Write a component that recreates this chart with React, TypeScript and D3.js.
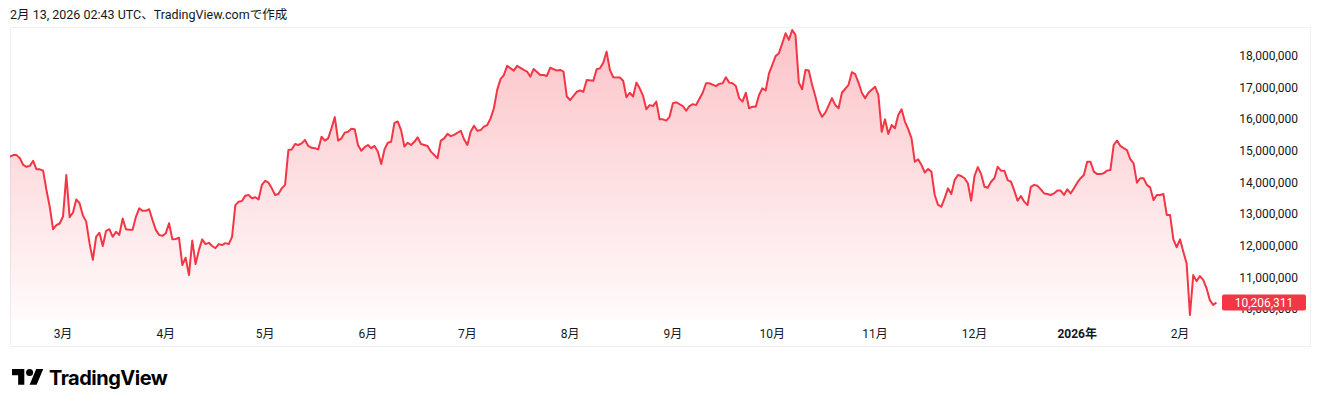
import React from "react";
import * as d3 from "d3";

// ---- data (BTC/JPY daily close) ----
const febMar2025: [string, number][] = [
  ["2025-02-13", 14810000], ["2025-02-14", 14860000], ["2025-02-15", 14860000], ["2025-02-16", 14760000],
  ["2025-02-17", 14550000], ["2025-02-18", 14490000], ["2025-02-19", 14520000], ["2025-02-20", 14680000],
  ["2025-02-21", 14410000], ["2025-02-22", 14410000], ["2025-02-23", 14370000], ["2025-02-24", 13760000],
  ["2025-02-25", 13230000], ["2025-02-26", 12520000], ["2025-02-27", 12650000], ["2025-02-28", 12700000],
  ["2025-03-01", 12920000], ["2025-03-02", 14230000], ["2025-03-03", 12900000], ["2025-03-04", 13040000],
  ["2025-03-05", 13460000], ["2025-03-06", 13340000], ["2025-03-07", 12950000], ["2025-03-08", 12760000],
  ["2025-03-09", 12080000], ["2025-03-10", 11550000], ["2025-03-11", 12280000], ["2025-03-12", 12410000],
  ["2025-03-13", 11990000], ["2025-03-14", 12470000], ["2025-03-15", 12520000], ["2025-03-16", 12280000],
  ["2025-03-17", 12440000], ["2025-03-18", 12340000], ["2025-03-19", 12860000], ["2025-03-20", 12520000],
  ["2025-03-21", 12500000], ["2025-03-22", 12500000], ["2025-03-23", 12910000], ["2025-03-24", 13180000],
  ["2025-03-25", 13100000], ["2025-03-26", 13100000], ["2025-03-27", 13150000], ["2025-03-28", 12810000],
  ["2025-03-29", 12500000], ["2025-03-30", 12340000], ["2025-03-31", 12310000],
];

const aprMay2025: [string, number][] = [
  ["2025-04-01", 12390000], ["2025-04-02", 12710000], ["2025-04-03", 12200000], ["2025-04-04", 12210000],
  ["2025-04-05", 12250000], ["2025-04-06", 11390000], ["2025-04-07", 11620000], ["2025-04-08", 11070000],
  ["2025-04-09", 12160000], ["2025-04-10", 11420000], ["2025-04-11", 11860000], ["2025-04-12", 12200000],
  ["2025-04-13", 12050000], ["2025-04-14", 12090000], ["2025-04-15", 11990000], ["2025-04-16", 11920000],
  ["2025-04-17", 12050000], ["2025-04-18", 12020000], ["2025-04-19", 12080000], ["2025-04-20", 12050000],
  ["2025-04-21", 12280000], ["2025-04-22", 13280000], ["2025-04-23", 13390000], ["2025-04-24", 13410000],
  ["2025-04-25", 13580000], ["2025-04-26", 13600000], ["2025-04-27", 13500000], ["2025-04-28", 13530000],
  ["2025-04-29", 13460000], ["2025-04-30", 13920000],
  ["2025-05-01", 14050000], ["2025-05-02", 13990000], ["2025-05-03", 13810000], ["2025-05-04", 13600000],
  ["2025-05-05", 13630000], ["2025-05-06", 13810000], ["2025-05-07", 13920000], ["2025-05-08", 15020000],
  ["2025-05-09", 15040000], ["2025-05-10", 15210000], ["2025-05-11", 15180000], ["2025-05-12", 15230000],
  ["2025-05-13", 15340000], ["2025-05-14", 15150000], ["2025-05-15", 15090000], ["2025-05-16", 15080000],
  ["2025-05-17", 15040000], ["2025-05-18", 15440000], ["2025-05-19", 15320000], ["2025-05-20", 15390000],
  ["2025-05-21", 15710000], ["2025-05-22", 16060000], ["2025-05-23", 15320000], ["2025-05-24", 15390000],
  ["2025-05-25", 15570000], ["2025-05-26", 15600000], ["2025-05-27", 15690000], ["2025-05-28", 15680000],
  ["2025-05-29", 15180000], ["2025-05-30", 15000000], ["2025-05-31", 15110000],
];

const junAug2025: [string, number][] = [
  ["2025-06-01", 15180000], ["2025-06-02", 15080000], ["2025-06-03", 15150000], ["2025-06-04", 14970000],
  ["2025-06-05", 14580000], ["2025-06-06", 15040000], ["2025-06-07", 15250000], ["2025-06-08", 15280000],
  ["2025-06-09", 15880000], ["2025-06-10", 15920000], ["2025-06-11", 15650000], ["2025-06-12", 15130000],
  ["2025-06-13", 15250000], ["2025-06-14", 15180000], ["2025-06-15", 15280000], ["2025-06-16", 15420000],
  ["2025-06-17", 15210000], ["2025-06-18", 15180000], ["2025-06-19", 15150000], ["2025-06-20", 14970000],
  ["2025-06-22", 14760000], ["2025-06-23", 15320000], ["2025-06-24", 15390000], ["2025-06-25", 15530000],
  ["2025-06-26", 15460000], ["2025-06-27", 15500000], ["2025-06-29", 15630000], ["2025-06-30", 15360000],
  ["2025-07-01", 15180000], ["2025-07-02", 15600000], ["2025-07-03", 15790000], ["2025-07-04", 15630000],
  ["2025-07-05", 15650000], ["2025-07-06", 15760000], ["2025-07-07", 15810000], ["2025-07-08", 16020000],
  ["2025-07-09", 16340000], ["2025-07-10", 16920000], ["2025-07-11", 17260000], ["2025-07-12", 17390000],
  ["2025-07-13", 17680000], ["2025-07-15", 17530000], ["2025-07-16", 17680000], ["2025-07-18", 17550000],
  ["2025-07-19", 17500000], ["2025-07-20", 17340000], ["2025-07-21", 17580000], ["2025-07-23", 17390000],
  ["2025-07-24", 17390000], ["2025-07-25", 17360000], ["2025-07-26", 17620000], ["2025-07-28", 17530000],
  ["2025-07-29", 17550000], ["2025-07-30", 17500000], ["2025-07-31", 16710000],
  ["2025-08-01", 16600000], ["2025-08-03", 16860000], ["2025-08-04", 16900000], ["2025-08-05", 16860000],
  ["2025-08-06", 17230000], ["2025-08-08", 17210000], ["2025-08-09", 17570000], ["2025-08-10", 17600000],
  ["2025-08-11", 17780000], ["2025-08-12", 18130000], ["2025-08-13", 17550000], ["2025-08-14", 17320000],
  ["2025-08-16", 17310000], ["2025-08-17", 17210000], ["2025-08-18", 16690000], ["2025-08-19", 16830000],
  ["2025-08-20", 16710000], ["2025-08-21", 17150000], ["2025-08-22", 16970000], ["2025-08-23", 16730000],
  ["2025-08-24", 16310000], ["2025-08-25", 16440000], ["2025-08-26", 16410000], ["2025-08-27", 16550000],
  ["2025-08-28", 15990000], ["2025-08-29", 15990000], ["2025-08-30", 15950000], ["2025-08-31", 16070000],
];

const sepNov2025: [string, number][] = [
  ["2025-09-01", 16500000], ["2025-09-02", 16530000], ["2025-09-04", 16410000], ["2025-09-05", 16260000],
  ["2025-09-06", 16410000], ["2025-09-07", 16470000], ["2025-09-08", 16440000], ["2025-09-10", 16830000],
  ["2025-09-11", 17130000], ["2025-09-12", 17130000], ["2025-09-14", 17040000], ["2025-09-15", 17110000],
  ["2025-09-16", 17130000], ["2025-09-17", 17320000], ["2025-09-18", 17150000], ["2025-09-19", 17130000],
  ["2025-09-20", 17040000], ["2025-09-21", 16660000], ["2025-09-22", 16550000], ["2025-09-23", 16830000],
  ["2025-09-24", 16340000], ["2025-09-25", 16390000], ["2025-09-26", 16390000], ["2025-09-27", 16760000],
  ["2025-09-28", 16970000], ["2025-09-29", 16900000], ["2025-09-30", 17440000],
  ["2025-10-01", 17710000], ["2025-10-02", 17990000], ["2025-10-03", 18080000], ["2025-10-04", 18390000],
  ["2025-10-05", 18710000], ["2025-10-06", 18500000], ["2025-10-07", 18810000], ["2025-10-08", 18650000],
  ["2025-10-09", 17150000], ["2025-10-10", 16940000], ["2025-10-11", 17550000], ["2025-10-12", 17530000],
  ["2025-10-13", 17080000], ["2025-10-14", 16710000], ["2025-10-15", 16290000], ["2025-10-16", 16070000],
  ["2025-10-17", 16200000], ["2025-10-19", 16660000], ["2025-10-20", 16440000], ["2025-10-21", 16340000],
  ["2025-10-22", 16830000], ["2025-10-24", 17080000], ["2025-10-25", 17480000], ["2025-10-26", 17420000],
  ["2025-10-27", 17150000], ["2025-10-28", 16830000], ["2025-10-29", 16660000], ["2025-10-30", 16830000],
  ["2025-11-01", 17020000], ["2025-11-02", 16760000], ["2025-11-03", 15600000], ["2025-11-04", 15990000],
  ["2025-11-05", 15530000], ["2025-11-06", 15810000], ["2025-11-07", 15710000], ["2025-11-08", 16130000],
  ["2025-11-09", 16310000], ["2025-11-10", 15920000], ["2025-11-11", 15680000], ["2025-11-12", 15390000],
  ["2025-11-13", 14650000], ["2025-11-14", 14730000], ["2025-11-15", 14550000], ["2025-11-16", 14310000],
  ["2025-11-17", 14420000], ["2025-11-18", 14340000], ["2025-11-19", 13600000], ["2025-11-20", 13290000],
  ["2025-11-21", 13230000], ["2025-11-22", 13500000], ["2025-11-23", 13810000], ["2025-11-24", 13630000],
  ["2025-11-25", 14070000], ["2025-11-26", 14230000], ["2025-11-27", 14200000], ["2025-11-28", 14130000],
  ["2025-11-29", 13970000], ["2025-11-30", 13420000],
];

const decFeb2026: [string, number][] = [
  ["2025-12-01", 14200000], ["2025-12-02", 14480000], ["2025-12-03", 14260000], ["2025-12-04", 13860000],
  ["2025-12-05", 13830000], ["2025-12-06", 14020000], ["2025-12-07", 14130000], ["2025-12-08", 14490000],
  ["2025-12-09", 14370000], ["2025-12-10", 14370000], ["2025-12-11", 14070000], ["2025-12-12", 14020000],
  ["2025-12-13", 13740000], ["2025-12-14", 13420000], ["2025-12-15", 13570000], ["2025-12-16", 13390000],
  ["2025-12-17", 13280000], ["2025-12-18", 13860000], ["2025-12-19", 13920000], ["2025-12-20", 13890000],
  ["2025-12-21", 13780000], ["2025-12-22", 13650000], ["2025-12-23", 13630000], ["2025-12-24", 13600000],
  ["2025-12-25", 13650000], ["2025-12-26", 13740000], ["2025-12-27", 13740000], ["2025-12-28", 13600000],
  ["2025-12-29", 13780000], ["2025-12-30", 13650000], ["2025-12-31", 13810000],
  ["2026-01-01", 13990000], ["2026-01-02", 14130000], ["2026-01-03", 14230000], ["2026-01-04", 14650000],
  ["2026-01-05", 14650000], ["2026-01-06", 14340000], ["2026-01-07", 14260000], ["2026-01-08", 14260000],
  ["2026-01-09", 14290000], ["2026-01-10", 14370000], ["2026-01-11", 14390000], ["2026-01-12", 15180000],
  ["2026-01-13", 15320000], ["2026-01-14", 15150000], ["2026-01-15", 15080000], ["2026-01-16", 15020000],
  ["2026-01-17", 14730000], ["2026-01-18", 14600000], ["2026-01-19", 13990000], ["2026-01-20", 14130000],
  ["2026-01-21", 14130000], ["2026-01-22", 13920000], ["2026-01-23", 13840000], ["2026-01-24", 13440000],
  ["2026-01-25", 13600000], ["2026-01-26", 13600000], ["2026-01-27", 13630000], ["2026-01-28", 12970000],
  ["2026-01-29", 12970000], ["2026-01-30", 12200000], ["2026-01-31", 11950000],
  ["2026-02-01", 12200000], ["2026-02-02", 11810000], ["2026-02-03", 11440000], ["2026-02-04", 9810000],
  ["2026-02-05", 11070000], ["2026-02-06", 10880000], ["2026-02-07", 11040000], ["2026-02-08", 10920000],
  ["2026-02-09", 10660000], ["2026-02-10", 10280000], ["2026-02-11", 10130000], ["2026-02-12", 10206311],
];

const priceTicks = [10000000, 11000000, 12000000, 13000000, 14000000, 15000000, 16000000, 17000000, 18000000];
const monthTicks = [
  "2025-03-01", "2025-04-01", "2025-05-01", "2025-06-01", "2025-07-01", "2025-08-01",
  "2025-09-01", "2025-10-01", "2025-11-01", "2025-12-01", "2026-01-01", "2026-02-01",
];
const titleText = "2月 13, 2026 02:43 UTC、TradingView.comで作成";
const brandText = "TradingView";

// ---- layout / style ----
const W = 1322;
const H = 407;
const RED = "#F23645";
const TEXT = "#131722";
const FONT = "Roboto, 'Noto Sans CJK JP', 'Noto Sans', sans-serif";
const paneBottom = 320;

const parse = (s: string) => new Date(s + "T00:00:00Z");

export default function App() {
  const data = [...febMar2025, ...aprMay2025, ...junAug2025, ...sepNov2025, ...decFeb2026].map(
    ([d, v]) => ({ date: parse(d), value: v })
  );

  const x = d3.scaleUtc().domain([parse("2025-03-01"), parse("2026-02-01")]).range([63, 1180]);
  const y = d3.scaleLinear().domain([10000000, 18000000]).range([309, 55.7]);

  const line = d3
    .line<{ date: Date; value: number }>()
    .x((d) => x(d.date))
    .y((d) => y(d.value));
  const area = d3
    .area<{ date: Date; value: number }>()
    .x((d) => x(d.date))
    .y0(paneBottom)
    .y1((d) => y(d.value));

  const fmt = d3.format(",");
  const last = data[data.length - 1];
  const lastY = y(last.value);
  const maxVal = d3.max(data, (d) => d.value) as number;

  return (
    <svg
      width={W}
      height={H}
      style={{ position: "absolute", left: 0, top: 0, background: "#fff" }}
      fontFamily={FONT}
    >
      <defs>
        <linearGradient id="fillGrad" gradientUnits="userSpaceOnUse" x1="0" y1={y(maxVal)} x2="0" y2={paneBottom}>
          <stop offset="0" stopColor={RED} stopOpacity={0.3} />
          <stop offset="1" stopColor={RED} stopOpacity={0.02} />
        </linearGradient>
        <clipPath id="pane">
          <rect x={10} y={27} width={1212} height={paneBottom - 27 + 2} />
        </clipPath>
      </defs>

      <rect x={0} y={0} width={W} height={H} fill="#fff" />

      {/* title */}
      <text x={10} y={19} fontSize={12.5} fill={TEXT}>
        {titleText}
      </text>

      {/* chart frame */}
      <rect x={10.5} y={27.5} width={1300} height={319} fill="none" stroke="#eef0f4" strokeWidth={1} />

      {/* area + line */}
      <g clipPath="url(#pane)">
        <path d={area(data) || ""} fill="url(#fillGrad)" />
        <path d={line(data) || ""} fill="none" stroke={RED} strokeWidth={2} strokeLinejoin="round" />
      </g>

      {/* price axis */}
      {priceTicks.map((t) => (
        <text key={t} x={1298} y={y(t)} dy="0.35em" textAnchor="end" fontSize={12} fill={TEXT}>
          {fmt(t)}
        </text>
      ))}

      {/* last price label */}
      <rect x={1222} y={lastY - 8} width={84} height={16} rx={2} fill={RED} />
      <text x={1264} y={lastY} dy="0.35em" textAnchor="middle" fontSize={12} fill="#fff">
        {fmt(last.value)}
      </text>

      {/* time axis */}
      {monthTicks.map((m) => {
        const dt = parse(m);
        const isYear = dt.getUTCMonth() === 0;
        const label = isYear ? `${dt.getUTCFullYear()}年` : `${dt.getUTCMonth() + 1}月`;
        return (
          <text
            key={m}
            x={x(dt)}
            y={334}
            dy="0.35em"
            textAnchor="middle"
            fontSize={12}
            fontWeight={isYear ? 700 : 400}
            fill={TEXT}
          >
            {label}
          </text>
        );
      })}

      {/* brand logo */}
      <g transform="translate(12,365.5) scale(0.88)" fill="#000">
        <path d="M14 22H7V11H0V4h14v18zM28 22h-8l7.5-18h8L28 22z" />
        <circle cx={20} cy={8} r={4} />
      </g>
      <text x={49} y={385} fontSize={20} fontWeight={700} fill="#000" fontFamily="Inter, Roboto, sans-serif" letterSpacing={-0.5}>
        {brandText}
      </text>
    </svg>
  );
}
